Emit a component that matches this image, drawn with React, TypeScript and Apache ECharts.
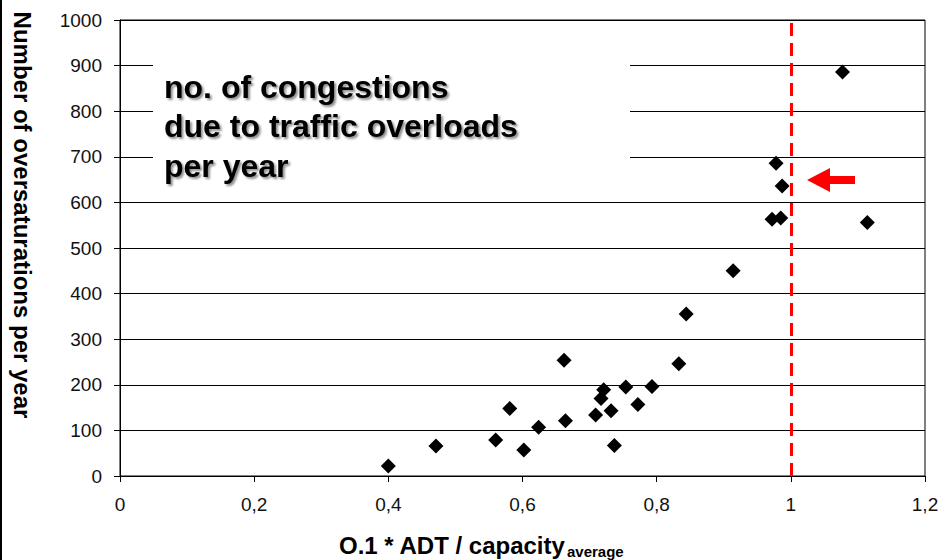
import React, { useEffect, useRef } from "react";
import * as echarts from "echarts";

const xRatio = [0.400, 0.471, 0.560, 0.581, 0.602, 0.624, 0.662, 0.664, 0.709, 0.717, 0.721, 0.732, 0.737, 0.754, 0.772, 0.793, 0.833, 0.844, 0.914, 0.972, 0.978, 0.985, 0.987, 1.077, 1.114];
const yCount = [22, 66, 79, 148, 57, 107, 254, 121, 134, 170, 189, 143, 67, 195, 157, 196, 246, 355, 450, 563, 686, 566, 636, 886, 556];
const thresholdX = 1;
const annotationLines = ["no. of congestions", "due to traffic overloads", "per year"];
const yTitle = "Number of oversaturations per year";
const xTitleMain = "O.1 * ADT / capacity";
const xTitleSub = "average";

const FONT = "'Liberation Sans', Arial, sans-serif";

export default function App() {
  const ref = useRef<HTMLDivElement>(null);
  useEffect(() => {
    if (!ref.current) return;
    const chart = echarts.init(ref.current, null, { renderer: "svg" });
    const data = xRatio.map((x, i) => [x, yCount[i]]);
    const fmt = (v: number) => Number(v.toFixed(1)).toString().replace(".", ",");
    chart.setOption({
      animation: false,
      backgroundColor: "#ffffff",
      grid: {
        left: 120, right: 18, top: 20, bottom: 84,
        show: true, borderColor: "#000", borderWidth: 1, backgroundColor: "transparent",
      },
      xAxis: {
        type: "value", min: 0, max: 1.2, interval: 0.2,
        axisLine: { show: true, onZero: false, lineStyle: { color: "#000", width: 1 } },
        axisTick: { show: true, length: 6, lineStyle: { color: "#000" } },
        splitLine: { show: false },
        axisLabel: { formatter: fmt, fontFamily: FONT, fontSize: 19, color: "#111", margin: 19 },
      },
      yAxis: {
        type: "value", min: 0, max: 1000, interval: 100,
        axisLine: { show: true, lineStyle: { color: "#000", width: 1 } },
        axisTick: { show: true, length: 6, lineStyle: { color: "#000" } },
        splitLine: { show: true, lineStyle: { color: "#000", width: 1 } },
        axisLabel: { formatter: (v: number) => String(Math.round(v)), fontFamily: FONT, fontSize: 19, color: "#111", margin: 18 },
      },
      series: [
        {
          type: "scatter",
          data,
          symbol: "diamond",
          symbolSize: 15,
          itemStyle: { color: "#000", opacity: 1 },
          z: 5,
          markLine: {
            silent: true,
            symbol: ["none", "none"],
            label: { show: false },
            lineStyle: { color: "#ff0000", width: 3, type: [13, 7] },
            data: [{ xAxis: thresholdX }],
          },
        },
      ],
      graphic: [
        { type: "rect", shape: { x: 0, y: 0, width: 2, height: 560 }, style: { fill: "#000" }, z: 100 },
        { type: "rect", shape: { x: 153, y: 52, width: 477, height: 143 }, style: { fill: "#fff" }, z: 100 },
        {
          type: "text", x: 164, y: 67, z: 101,
          style: {
            text: annotationLines.join("\n"), font: `bold 32px ${FONT}`, fill: "#000",
            lineHeight: 39.5, verticalAlign: "top", align: "left",
            textShadowColor: "rgba(0,0,0,0.45)", textShadowOffsetX: 2, textShadowOffsetY: 2, textShadowBlur: 2,
          },
        },
        {
          type: "polygon", z: 101,
          shape: { points: [[807, 180], [830, 168], [830, 176], [855, 176], [855, 184], [830, 184], [830, 192]] },
          style: { fill: "#ff0000" },
        },
        {
          type: "text", x: 22, y: 215, rotation: -Math.PI / 2, z: 101,
          style: { text: yTitle, font: `bold 24px ${FONT}`, fill: "#000", align: "center", verticalAlign: "middle" },
        },
        {
          type: "text", x: 339, y: 545, z: 101,
          style: { text: xTitleMain, font: `bold 24px ${FONT}`, fill: "#000", align: "left", verticalAlign: "middle" },
        },
        {
          type: "text", x: 567, y: 551, z: 101,
          style: { text: xTitleSub, font: `bold 15px ${FONT}`, fill: "#000", align: "left", verticalAlign: "middle" },
        },
      ],
    });
    return () => chart.dispose();
  }, []);
  return <div ref={ref} style={{ position: "fixed", left: 0, top: 0, width: 943, height: 560 }} />;
}
